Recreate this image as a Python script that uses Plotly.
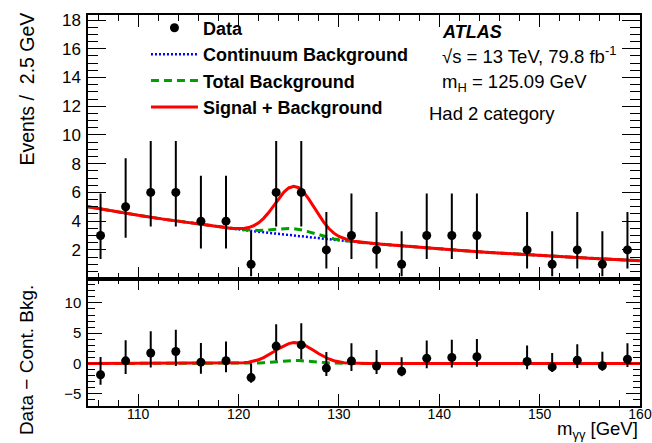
import plotly.graph_objects as go

# ---------------- data ----------------
bin_centers = [106.25, 108.75, 111.25, 113.75, 116.25, 118.75, 121.25, 123.75, 126.25,
               128.75, 131.25, 133.75, 136.25, 138.75, 141.25, 143.75, 148.75, 151.25,
               153.75, 156.25, 158.75]
events = [3, 5, 6, 6, 4, 4, 1, 6, 6, 2, 3, 2, 1, 3, 3, 3, 2, 1, 2, 1, 2]
err_hi = [2.92, 3.38, 3.58, 3.58, 3.16, 3.16, 2.30, 3.58, 3.58, 2.64, 2.92, 2.64, 2.30,
          2.92, 2.92, 2.92, 2.64, 2.30, 2.64, 2.30, 2.64]
err_lo = [1.63, 2.16, 2.38, 2.38, 1.91, 1.91, 0.83, 2.38, 2.38, 1.29, 1.63, 1.29, 0.83,
          1.63, 1.63, 1.63, 1.29, 0.83, 1.29, 0.83, 1.29]
residuals = [-1.85, 0.45, 1.73, 1.99, 0.23, 0.46, -2.32, 2.88, 3.07, -0.75, 0.42, -0.42,
             -1.28, 0.86, 0.99, 1.12, 0.34, -0.56, 0.54, -0.37, 0.71]

x_curve = [105, 107.5, 110, 112.5, 115, 117.5,
           118, 118.5, 119, 119.5, 120, 120.5, 121, 121.5, 122, 122.5, 123, 123.5, 124,
           124.5, 125, 125.5, 126, 126.5, 127, 127.5, 128, 128.5, 129, 129.5, 130, 130.5,
           131, 131.5, 132, 132.5, 133, 133.5, 134,
           135, 137.5, 140, 142.5, 145, 147.5, 150, 152.5, 155, 157.5, 160]
cont_bkg = [5.00, 4.69, 4.41, 4.14, 3.89, 3.65,
            3.60, 3.56, 3.51, 3.47, 3.43, 3.38, 3.34, 3.30, 3.26, 3.22, 3.18, 3.14, 3.10,
            3.06, 3.02, 2.98, 2.95, 2.91, 2.87, 2.84, 2.80, 2.77, 2.73, 2.70, 2.66, 2.63,
            2.60, 2.56, 2.53, 2.50, 2.47, 2.44, 2.41,
            2.35, 2.20, 2.07, 1.94, 1.82, 1.71, 1.61, 1.51, 1.42, 1.33, 1.25]
sig_resid = [0, 0, 0, 0, 0, 0,
             0.002, 0.004, 0.011, 0.026, 0.056, 0.113, 0.214, 0.378, 0.628, 0.975, 1.418,
             1.932, 2.464, 2.943, 3.291, 3.446, 3.378, 3.102, 2.666, 2.146, 1.618, 1.142,
             0.755, 0.467, 0.270, 0.147, 0.075, 0.036, 0.016, 0.007, 0.002, 0.001, 0.0,
             0, 0, 0, 0, 0, 0, 0, 0, 0, 0, 0]
hbkg_resid = [0, 0, 0, 0, 0, 0,
              0.0, 0.001, 0.002, 0.004, 0.008, 0.016, 0.031, 0.055, 0.091, 0.141, 0.206,
              0.280, 0.357, 0.426, 0.477, 0.499, 0.490, 0.450, 0.386, 0.311, 0.234, 0.165,
              0.109, 0.068, 0.039, 0.021, 0.011, 0.005, 0.002, 0.001, 0.0, 0.0, 0.0,
              0, 0, 0, 0, 0, 0, 0, 0, 0, 0, 0]

total_bkg = [b + h for b, h in zip(cont_bkg, hbkg_resid)]
sig_bkg = [b + s for b, s in zip(cont_bkg, sig_resid)]

# ---------------- style ----------------
FONT = "Liberation Sans, Arial, Helvetica, sans-serif"
RED = "#ff0000"
GREEN = "#00a000"
BLUE = "#0000ff"
DASH_G = "8px,5px"
DOT_B = "2px,2px"

fig = go.Figure()

# top panel
fig.add_trace(go.Scatter(x=x_curve, y=cont_bkg, mode="lines", name="<b>Continuum Background</b>",
                         line=dict(color=BLUE, width=2.5, dash=DOT_B), xaxis="x", yaxis="y",
                         legendrank=2, legendgroup="b"))
fig.add_trace(go.Scatter(x=x_curve, y=total_bkg, mode="lines", name="<b>Total Background</b>",
                         line=dict(color=GREEN, width=3, dash=DASH_G), xaxis="x", yaxis="y",
                         legendrank=3, legendgroup="c"))
fig.add_trace(go.Scatter(x=x_curve, y=sig_bkg, mode="lines", name="<b>Signal + Background</b>",
                         line=dict(color=RED, width=3), xaxis="x", yaxis="y",
                         legendrank=4, legendgroup="d"))
fig.add_trace(go.Scatter(x=bin_centers, y=events, mode="markers", name="<b>Data</b>",
                         marker=dict(color="black", size=9),
                         error_y=dict(type="data", symmetric=False, array=err_hi,
                                      arrayminus=err_lo, color="black", thickness=2, width=0),
                         xaxis="x", yaxis="y", legendrank=1, legendgroup="a"))

# bottom panel
fig.add_trace(go.Scatter(x=x_curve, y=hbkg_resid, mode="lines", showlegend=False,
                         line=dict(color=GREEN, width=3, dash=DASH_G), xaxis="x2", yaxis="y2"))
fig.add_trace(go.Scatter(x=x_curve, y=sig_resid, mode="lines", showlegend=False,
                         line=dict(color=RED, width=3), xaxis="x2", yaxis="y2"))
fig.add_trace(go.Scatter(x=bin_centers, y=residuals, mode="markers", showlegend=False,
                         marker=dict(color="black", size=9),
                         error_y=dict(type="data", symmetric=False, array=err_hi,
                                      arrayminus=err_lo, color="black", thickness=2, width=0),
                         xaxis="x2", yaxis="y2"))

axis_common = dict(showline=True, linecolor="black", linewidth=1.5, mirror="allticks",
                   ticks="inside", tickcolor="black", tickwidth=1, showgrid=False,
                   zeroline=False, automargin=False)

split = 0.3258

fig.update_layout(
    width=652, height=443,
    margin=dict(l=88, r=12, t=10, b=37),
    paper_bgcolor="white", plot_bgcolor="white",
    font=dict(family=FONT, color="black"),
    showlegend=True,
    legend=dict(x=0.105, y=1.014, xanchor="left", yanchor="top", bgcolor="rgba(0,0,0,0)",
                font=dict(size=18, family=FONT), tracegroupgap=0, itemwidth=47),
    xaxis=dict(axis_common, domain=[0, 1], anchor="y", range=[105, 160], dtick=10,
               ticklen=12, showticklabels=False,
               minor=dict(dtick=2, ticklen=6, ticks="inside", tickcolor="black")),
    yaxis=dict(axis_common, domain=[split, 1], anchor="x", range=[0, 18.35],
               tickvals=[2, 4, 6, 8, 10, 12, 14, 16, 18], ticklen=18,
               tickfont=dict(size=17), ticklabelstandoff=2,
               minor=dict(tick0=0, dtick=0.5, ticklen=10, ticks="inside", tickcolor="black")),
    xaxis2=dict(axis_common, domain=[0, 1], anchor="y2", range=[105, 160], dtick=10,
                ticklen=12, matches="x", tickfont=dict(size=14), ticklabelstandoff=-6,
                minor=dict(dtick=2, ticklen=6, ticks="inside", tickcolor="black")),
    yaxis2=dict(axis_common, domain=[0, split], anchor="x2", range=[-7, 14],
                tickvals=[-5, 0, 5, 10], ticklen=14, tickfont=dict(size=15),
                ticklabelstandoff=2,
                minor=dict(tick0=0, dtick=1, ticklen=7, ticks="inside", tickcolor="black")),
)

annotations = [
    dict(text="<b><i>ATLAS</i></b>", x=0.6377, y=0.957, font=dict(size=18)),
    dict(text="√s = 13 TeV, 79.8 fb<sup>-1</sup>", x=0.6377, y=0.898, font=dict(size=18.5)),
    dict(text="m<sub>H</sub> = 125.09 GeV", x=0.6377, y=0.825, font=dict(size=18.5)),
    dict(text="Had 2 category", x=0.6141, y=0.748, font=dict(size=18.5)),
]
for a in annotations:
    fig.add_annotation(xref="paper", yref="paper", xanchor="left", yanchor="middle",
                       showarrow=False, **a)

fig.add_annotation(text="Events /  2.5 GeV", xref="paper", yref="paper", x=0, y=1,
                   xanchor="center", yanchor="top", xshift=-62, yshift=4, textangle=-90,
                   showarrow=False, font=dict(size=19.5))
fig.add_annotation(text="Data − Cont. Bkg.", xref="paper", yref="paper", x=0, y=split,
                   xanchor="center", yanchor="top", xshift=-62, yshift=-4, textangle=-90,
                   showarrow=False, font=dict(size=19))
fig.add_annotation(text="m<sub>γγ</sub> [GeV]", xref="paper", yref="paper", x=1, y=-0.0934,
                   xanchor="right", yanchor="bottom", yshift=-1, showarrow=False,
                   font=dict(size=18.5))

fig.write_html("out.html")
